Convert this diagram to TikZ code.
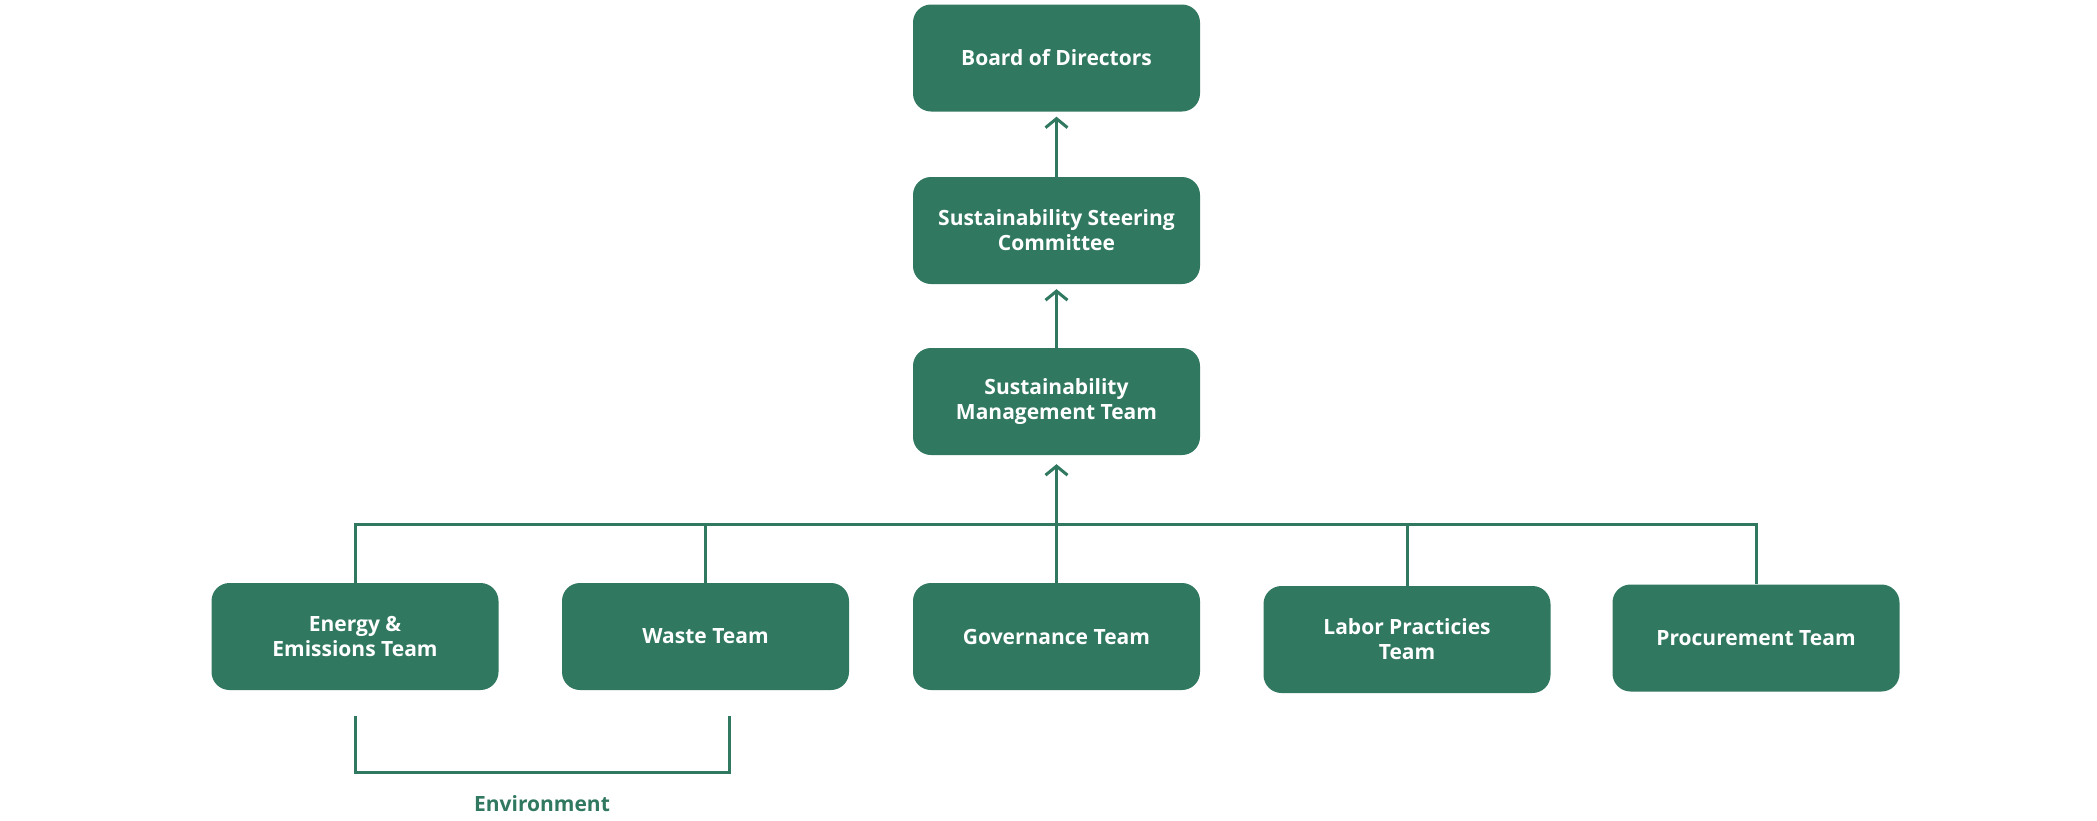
\documentclass[tikz,border=0pt]{standalone}
\usepackage{fontspec}
\setmainfont{Open Sans}
\usetikzlibrary{arrows.meta}
\definecolor{tg}{HTML}{30785F}
\begin{document}
\begin{tikzpicture}[x=1pt,y=-1pt,
  box/.style={fill=tg, rounded corners=18pt, minimum width=287pt, minimum height=107pt,
    text=white, font=\bfseries\fontsize{21}{25}\selectfont, align=center, inner sep=0pt},
  link/.style={draw=tg, line width=3pt},
  arr/.style={link, -{Straight Barb[length=9pt,width=22pt,line width=3pt]}},
  envlabel/.style={text=tg, font=\bfseries\fontsize{21}{24}\selectfont}]
\useasboundingbox (0,0) rectangle (2097,820);
\node[box] (board) at (1056.5,58) {Board of Directors};
\node[box] (steer) at (1056.5,230.5) {Sustainability Steering\\Committee};
\node[box] (mgmt) at (1056.5,401.5) {Sustainability\\Management Team};
\node[box] (energy) at (355,636.5) {Energy \&\\Emissions Team};
\node[box] (waste) at (705.5,636.5) {Waste Team};
\node[box] (gov) at (1056.5,636.5) {Governance Team};
\node[box] (labor) at (1407,639.5) {Labor Practicies\\Team};
\node[box] (proc) at (1756,638) {Procurement Team};
\coordinate (bus) at (1056.5,524);
\draw[arr, shorten >=5pt] (steer.north) -- (board.south);
\draw[arr, shorten >=5pt] (mgmt.north) -- (steer.south);
\draw[arr, shorten >=9pt] (gov.north) -- (mgmt.south);
\draw[link] (energy.north) -- (energy.north |- bus) -| (proc.north);
\draw[link] (waste.north) -- (waste.north |- bus);
\draw[link] (labor.north) -- (labor.north |- bus);
\coordinate (bl) at (355,716);
\coordinate (br) at (729,716);
\draw[link] (bl) -- ++(0,56) -| (br);
\node[envlabel] (env) at (542,804) {Environment};
\end{tikzpicture}
\end{document}
